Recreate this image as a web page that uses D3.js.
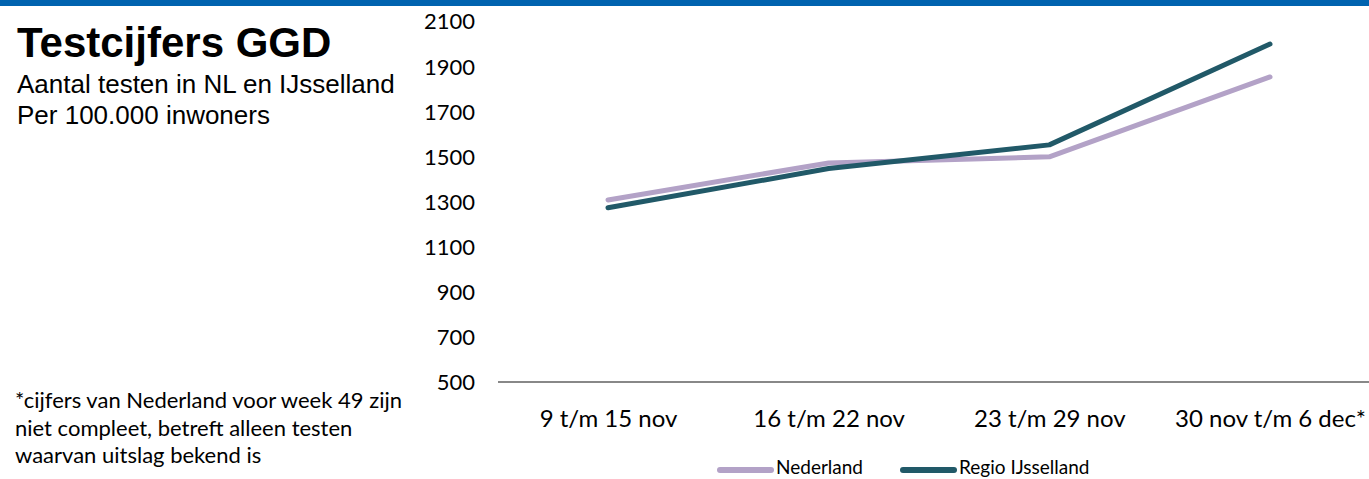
<!DOCTYPE html>
<html><head><meta charset="utf-8">
<script src="https://cdn.jsdelivr.net/npm/d3@7"></script>
<style>
body{margin:0;background:#fff;overflow:hidden}
svg{display:block}
</style></head>
<body>
<svg id="c" width="1369" height="479"></svg>
<script>
const categories = ["9 t/m 15 nov", "16 t/m 22 nov", "23 t/m 29 nov", "30 nov t/m 6 dec*"];
const nederland = [1307, 1471, 1498, 1852];
const regioIJsselland = [1272, 1446, 1551, 1998];
const yTicks = [500, 700, 900, 1100, 1300, 1500, 1700, 1900, 2100];
const seriesNames = ["Nederland", "Regio IJsselland"];
const seriesColors = ["#B3A2C7", "#215968"];

const svg = d3.select("#c");
svg.append("rect").attr("x",0).attr("y",0).attr("width",1369).attr("height",6).attr("fill","#0063AF");

const x = d3.scalePoint().domain(categories).range([608, 1270]);
const y = d3.scaleLinear().domain([500, 2100]).range([382, 21]);

// axis line
svg.append("line").attr("x1",498).attr("x2",1369).attr("y1",y(500)).attr("y2",y(500))
  .attr("stroke","#888").attr("stroke-width",2);

const tickFont = "Lato, 'Open Sans', sans-serif";
const yAxis = d3.axisLeft(y).tickValues(yTicks).tickSize(0).tickPadding(0).tickFormat(d3.format("d"));
const gy = svg.append("g").attr("transform","translate(475,0)").call(yAxis);
gy.select(".domain").remove();
gy.selectAll("text").attr("font-family",tickFont).attr("font-size",22).attr("fill","#000").attr("dy","0.36em");

const xAxis = d3.axisBottom(x).tickSize(0).tickPadding(0);
const gx = svg.append("g").attr("transform","translate(0,0)").call(xAxis);
gx.select(".domain").remove();
gx.selectAll("text").attr("font-family",tickFont).attr("font-size",24).attr("fill","#000").attr("y",427).attr("dy",0);

const line = d3.line().x((d,i)=>x(categories[i])).y(d=>y(d));
[nederland, regioIJsselland].forEach((s,i)=>{
  svg.append("path").datum(s).attr("d",line).attr("fill","none")
    .attr("stroke",seriesColors[i]).attr("stroke-width",5).attr("stroke-linecap","round").attr("stroke-linejoin","round");
});

// title
svg.append("text").attr("x",17).attr("y",57).attr("font-family","'Liberation Sans', Arial, sans-serif")
  .attr("font-weight","bold").attr("font-size",42).attr("fill","#000").text("Testcijfers GGD");
svg.append("text").attr("x",17).attr("y",93).attr("font-family","'Liberation Sans', Arial, sans-serif")
  .attr("font-size",26).attr("fill","#000").text("Aantal testen in NL en IJsselland");
svg.append("text").attr("x",17).attr("y",124).attr("font-family","'Liberation Sans', Arial, sans-serif")
  .attr("font-size",26).attr("fill","#000").text("Per 100.000 inwoners");

// footnote
const foot = ["*cijfers van Nederland voor week 49 zijn","niet compleet, betreft alleen testen","waarvan uitslag bekend is"];
svg.append("g").selectAll("text").data(foot).join("text")
  .attr("x",15).attr("y",(d,i)=>408+i*27.5).attr("font-family",tickFont).attr("font-size",22).attr("fill","#000").text(d=>d);

// legend
const legX = [717, 900];
seriesNames.forEach((n,i)=>{
  svg.append("line").attr("x1",legX[i]+3).attr("x2",legX[i]+54).attr("y1",470).attr("y2",470)
    .attr("stroke",seriesColors[i]).attr("stroke-width",6).attr("stroke-linecap","round");
  svg.append("text").attr("x",legX[i]+59).attr("y",474).attr("font-family",tickFont)
    .attr("font-size",19).attr("fill","#000").text(n);
});
</script>
</body></html>
